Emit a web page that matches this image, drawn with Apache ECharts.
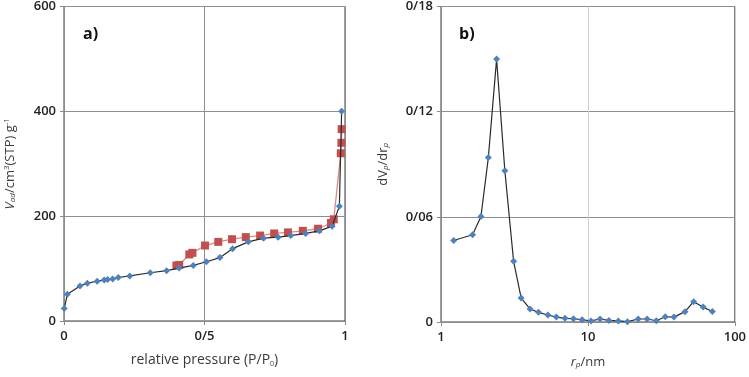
<!DOCTYPE html>
<html>
<head>
<meta charset="utf-8">
<script src="https://cdn.jsdelivr.net/npm/echarts@6/dist/echarts.min.js"></script>
<style>
  html, body { margin: 0; padding: 0; background: #fff; }
  #main { width: 749px; height: 377px; }
</style>
</head>
<body>
<div id="main"></div>
<script>
// 文本颜色
const textColor = '#222';
const nameColor = '#3a3a3a';
const fontFamily = 'Open Sans';

// a) 吸附分支 (relative pressure, V)
const adsP = [0.001, 0.012, 0.057, 0.083, 0.118, 0.143, 0.155, 0.173, 0.193, 0.234, 0.307, 0.365, 0.41, 0.46, 0.507,
  0.555, 0.6, 0.656, 0.71, 0.762, 0.807, 0.86, 0.909, 0.954, 0.98, 0.988];
const adsV = [24, 51, 67, 72, 76, 78, 79, 80, 83, 86, 92, 96, 101, 106, 113,
  121, 138, 151, 158, 160, 163, 167, 172, 181, 219, 400];
// a) 脱附分支
const desP = [0.988, 0.987, 0.985, 0.96, 0.95, 0.904, 0.85, 0.797, 0.748, 0.698, 0.647, 0.598, 0.549, 0.502, 0.457, 0.446, 0.41, 0.40];
const desV = [366, 340, 320, 194, 187, 176, 172, 169, 167, 163, 160, 156, 151, 144, 130, 127, 107, 106];

// b) 孔径分布
const rp = [1.22, 1.64, 1.87, 2.10, 2.39, 2.72, 3.12, 3.51, 4.04, 4.61, 5.34, 6.10, 6.98, 7.98, 9.13, 10.5,
  12.1, 13.9, 16.1, 18.6, 22.0, 25.3, 29.2, 33.6, 38.5, 45.8, 52.4, 60.8, 70.3];
const dv = [0.0465, 0.0498, 0.0602, 0.0938, 0.150, 0.0863, 0.0346, 0.0137, 0.0074, 0.0055, 0.0040, 0.0028, 0.0021, 0.0019, 0.0013, 0.0006,
  0.0017, 0.0009, 0.0006, 0.0002, 0.0017, 0.0017, 0.0007, 0.0030, 0.0028, 0.0059, 0.0116, 0.0085, 0.0060];

// 刻度
const leftY = {min: 0, max: 600, interval: 200};
const leftX = {min: 0, max: 1, interval: 0.5};
const rightY = {min: 0, max: 0.18, interval: 0.06};
const rightX = {min: 1, max: 100};

// 小数点改成 "/"
function slashFmt(v) {
  return String(+v.toFixed(4)).replace('.', '/');
}

function zip(a, b) {
  return a.map((v, i) => [v, b[i]]);
}

const subRich = {
  it: {fontStyle: 'italic', fontSize: 13, color: nameColor, fontFamily},
  sub: {fontStyle: 'italic', fontSize: 8, color: nameColor, fontFamily, verticalAlign: 'bottom', padding: [6, 0, 0, 0]},
  sup: {fontSize: 8, color: nameColor, fontFamily, verticalAlign: 'top', padding: [0, 0, 6, 0]},
  n: {fontSize: 13, color: nameColor, fontFamily},
  sb: {fontSize: 7, color: nameColor, fontFamily, verticalAlign: 'bottom', padding: [6, 0, 0, 0]}
};

// 公共轴样式
function axisBase(extra) {
  return Object.assign({
    axisLine: {show: true, onZero: false, lineStyle: {color: '#8c8c8c', width: 1}},
    axisTick: {show: true, length: 4, inside: false, lineStyle: {color: '#8c8c8c'}},
    axisLabel: {color: textColor, fontSize: 13, fontFamily, fontWeight: 600, formatter: slashFmt},
    splitLine: {show: true, lineStyle: {color: '#8e8e8e', width: 1}},
    nameLocation: 'middle',
    nameTextStyle: {color: nameColor, fontSize: 14, fontFamily, rich: subRich}
  }, extra);
}

let chart = echarts.init(document.getElementById('main'), null, {renderer: 'canvas'});

let option = {
  backgroundColor: '#fff',
  animation: false,
  title: [
    {text: 'a)', left: 78, top: 21, textStyle: {fontSize: 16, fontWeight: 'bold', color: '#111', fontFamily}},
    {text: 'b)', left: 454, top: 21, textStyle: {fontSize: 16, fontWeight: 'bold', color: '#111', fontFamily}}
  ],
  grid: [
    {left: 64, right: 404, top: 6, bottom: 56, show: true, borderColor: '#3c3c3c', borderWidth: 1},
    {left: 441, right: 11, top: 6, bottom: 55, show: true, borderColor: '#3c3c3c', borderWidth: 1}
  ],
  xAxis: [
    axisBase(Object.assign({
      type: 'value', gridIndex: 0,
      name: 'relative pressure (P/P{sb|0})', nameGap: 32,
      axisLabel: {color: textColor, fontSize: 13, fontFamily, fontWeight: 600, margin: 9, formatter: slashFmt}
    }, leftX)),
    axisBase(Object.assign({
      type: 'log', logBase: 10, gridIndex: 1,
      name: '{it|r}{sub|p}{n|/nm}', nameGap: 33,
      minorTick: {show: false}, minorSplitLine: {show: false},
      splitLine: {show: true, lineStyle: {color: '#cfcfcf', width: 1}},
      axisLabel: {color: textColor, fontSize: 13, fontFamily, fontWeight: 600, margin: 9, formatter: v => String(v)}
    }, rightX))
  ],
  yAxis: [
    axisBase(Object.assign({
      type: 'value', gridIndex: 0,
      name: '{it|V}{sub|ad}{n|/cm}{sup|3}{n|(STP) g}{sup|-1}', nameGap: 47, nameRotate: 90
    }, leftY)),
    axisBase(Object.assign({
      type: 'value', gridIndex: 1,
      name: '{n|dV}{sub|p}{n|/dr}{sub|p}', nameGap: 51, nameRotate: 90
    }, rightY))
  ],
  series: [
    {
      name: 'desorption', type: 'line', xAxisIndex: 0, yAxisIndex: 0,
      data: zip(desP, desV),
      symbol: 'rect', symbolSize: 8,
      itemStyle: {color: '#c0504d'},
      lineStyle: {color: '#d98a87', width: 1.3},
      z: 3
    },
    {
      name: 'adsorption', type: 'line', xAxisIndex: 0, yAxisIndex: 0,
      data: zip(adsP, adsV),
      symbol: 'diamond', symbolSize: 7,
      itemStyle: {color: '#4f81bd'},
      lineStyle: {color: '#2b2b2b', width: 1.2},
      z: 4
    },
    {
      name: 'psd', type: 'line', xAxisIndex: 1, yAxisIndex: 1,
      data: zip(rp, dv),
      symbol: 'diamond', symbolSize: 7,
      itemStyle: {color: '#4f81bd'},
      lineStyle: {color: '#2b2b2b', width: 1.2},
      z: 4
    }
  ]
};

chart.setOption(option, true);
</script>
</body>
</html>
